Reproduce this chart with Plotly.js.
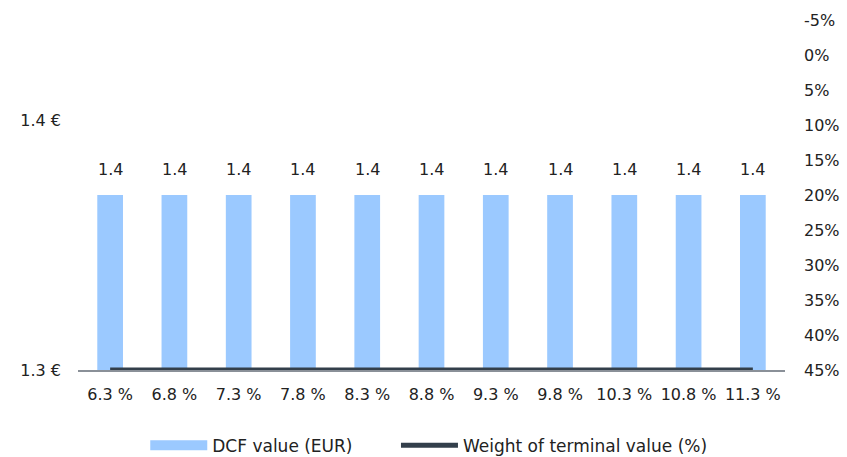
<!DOCTYPE html>
<html>
<head>
<meta charset="utf-8">
<script src="https://cdn.plot.ly/plotly-3.0.1.min.js"></script>
<style>html,body{margin:0;padding:0;background:#fff;}#chart{width:847px;height:457px;}</style>
</head>
<body>
<div id="chart"></div>
<script>
const categories = ["6.3 %","6.8 %","7.3 %","7.8 %","8.3 %","8.8 %","9.3 %","9.8 %","10.3 %","10.8 %","11.3 %"];
const dcfValues = [1.37,1.37,1.37,1.37,1.37,1.37,1.37,1.37,1.37,1.37,1.37];
const terminalWeight = [45,45,45,45,45,45,45,45,45,45,45];
const leftTickVals = [1.3, 1.4];
const leftTickText = ["1.3 €", "1.4 €"];
const rightTickVals = [-5,0,5,10,15,20,25,30,35,40,45];
const rightTickText = ["-5%","0%","5%","10%","15%","20%","25%","30%","35%","40%","45%"];

const font = "'DejaVu Sans', sans-serif";
const textColor = "#222222";
const barColor = "#9bc9ff";

const traces = [
  {
    type: "bar", name: "DCF value (EUR)", x: categories, y: dcfValues,
    marker: {color: barColor}, yaxis: "y", hoverinfo: "skip", showlegend: false
  },
  {
    type: "scatter", mode: "lines", name: "DCF value (EUR)",
    x: [categories[0]], y: [null], yaxis: "y", legend: "legend",
    line: {color: barColor, width: 11}, hoverinfo: "skip"
  },
  {
    type: "scatter", mode: "lines", name: "Weight of terminal value (%)",
    x: categories, y: terminalWeight, yaxis: "y2", legend: "legend2",
    line: {color: "#333f4b", width: 5}, cliponaxis: false, hoverinfo: "skip"
  }
];

const annotations = categories.map((c, i) => ({
  x: c, y: dcfValues[i], xref: "x", yref: "y", text: dcfValues[i].toFixed(1),
  showarrow: false, yanchor: "bottom", yshift: 14,
  font: {family: font, size: 16, color: textColor}
}));

const legendBase = {
  orientation: "h", xref: "container", yref: "container",
  xanchor: "left", y: 0.025, yanchor: "middle", itemwidth: 57,
  font: {family: font, size: 17, color: textColor}, tracegroupgap: 0
};

const layout = {
  width: 847, height: 457,
  margin: {l: 78, r: 62, t: 20, b: 87},
  paper_bgcolor: "#fff", plot_bgcolor: "#fff",
  font: {family: font, size: 16, color: textColor},
  bargap: 0.6,
  showlegend: true,
  legend: Object.assign({}, legendBase, {x: 0.1715}),
  legend2: Object.assign({}, legendBase, {x: 0.4675}),
  xaxis: {
    type: "category", showgrid: false, zeroline: false, automargin: false,
    showline: true, linecolor: "#8a9098", linewidth: 2,
    ticks: "", ticklabelstandoff: 9,
    tickfont: {family: font, size: 16, color: textColor}
  },
  yaxis: {
    range: [1.3, 1.44], tickvals: leftTickVals, ticktext: leftTickText,
    showgrid: false, zeroline: false, showline: false, ticks: "", automargin: false,
    ticklabelstandoff: 16,
    tickfont: {family: font, size: 16, color: textColor}
  },
  yaxis2: {
    overlaying: "y", side: "right", range: [45, -5],
    tickvals: rightTickVals, ticktext: rightTickText,
    showgrid: false, zeroline: false, showline: false, ticks: "", automargin: false,
    ticklabelstandoff: 18,
    tickfont: {family: font, size: 16, color: textColor}
  },
  annotations: annotations
};

Plotly.newPlot("chart", traces, layout, {displayModeBar: false, staticPlot: true});
</script>
</body>
</html>
